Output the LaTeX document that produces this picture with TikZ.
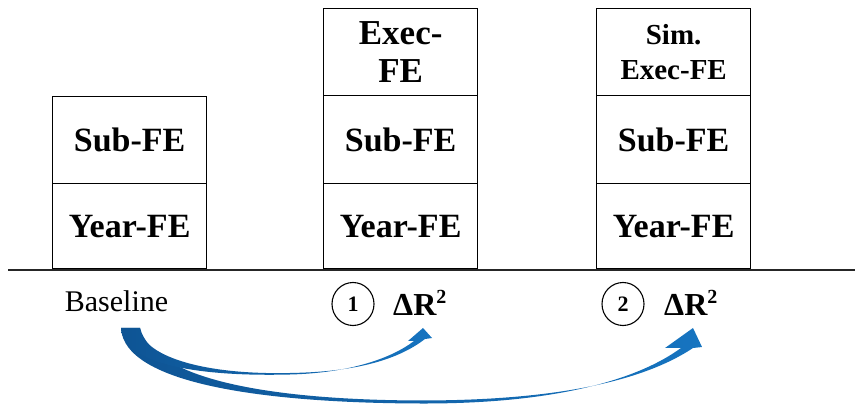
\documentclass[tikz,border=0pt]{standalone}
\usepackage{fontspec}
\setmainfont{Liberation Serif}
\usetikzlibrary{shapes.geometric}
\definecolor{tailblue}{RGB}{14,84,148}
\definecolor{headblue}{RGB}{22,116,192}
\begin{document}
\begin{tikzpicture}[x=1pt,y=-1pt,
  febox/.style={draw=black, line width=1.3pt, minimum width=154pt, inner sep=0pt,
    anchor=north west, align=center, font=\fontsize{34}{38}\selectfont\bfseries},
  numcirc/.style={draw=black, line width=1.1pt, ellipse, minimum width=42pt, minimum height=43pt, inner sep=0pt,
    font=\fontsize{22}{24}\selectfont\bfseries},
  drtxt/.style={anchor=base west, inner sep=0pt, font=\fontsize{32}{34}\selectfont\bfseries},
  curvarrow/.style={left color=tailblue, right color=headblue, draw=none}]
\useasboundingbox (0,0) rectangle (855,406);
% column 1
\node[febox, minimum height=87pt] (sub1) at (52,96) {Sub-FE};
\node[febox, minimum height=85pt] (year1) at (52,183) {Year-FE};
% column 2
\node[febox, minimum height=87pt, font=\fontsize{35}{38}\selectfont\bfseries] (exec2) at (323,8) {Exec-\\FE};
\node[febox, minimum height=88pt] (sub2) at (323,95) {Sub-FE};
\node[febox, minimum height=85pt] (year2) at (323,183) {Year-FE};
% column 3
\node[febox, minimum height=87pt, font=\fontsize{29}{35}\selectfont\bfseries] (exec3) at (596,8) {Sim.\\Exec-FE};
\node[febox, minimum height=88pt] (sub3) at (596,95) {Sub-FE};
\node[febox, minimum height=85pt] (year3) at (596,183) {Year-FE};
% axis line
\coordinate (hl) at (8,270);
\coordinate (hr) at (855,270);
\draw[line width=1.5pt, black!85] (hl) -- (hr);
% labels
\node[anchor=base, inner sep=0pt, font=\fontsize{30}{32}\selectfont] (base) at (116.5,312) {Baseline};
\node[numcirc] (c1) at (353,304) {\raisebox{-0.1em}{1}};
\node[drtxt] (dr1) at (393,316) {ΔR\raisebox{0.4em}{\fontsize{20}{20}\selectfont\bfseries 2}};
\node[numcirc] (c2) at (623,304) {\raisebox{-0.1em}{2}};
\node[drtxt] (dr2) at (664,316) {ΔR\raisebox{0.4em}{\fontsize{20}{20}\selectfont\bfseries 2}};
% curved arrows
\path[curvarrow] (121,328) .. controls (124,385) and (270,403) .. (420,403.5)
  .. controls (560,404) and (640,378) .. (681,348) -- (665,348) -- (693,328) -- (702,347) -- (693,348)
  .. controls (645,380) and (560,400.5) .. (420,400.5)
  .. controls (280,400) and (155,382) .. (140,328) -- cycle;
\path[curvarrow] (121,328) .. controls (123,362) and (190,377) .. (290,374.5)
  .. controls (350,373) and (392,358) .. (414,341) -- (408,341) -- (423,328) -- (432,338) -- (425,339)
  .. controls (395,362) and (350,372) .. (290,373)
  .. controls (200,375) and (142,355) .. (140,328) -- cycle;
\end{tikzpicture}
\end{document}
